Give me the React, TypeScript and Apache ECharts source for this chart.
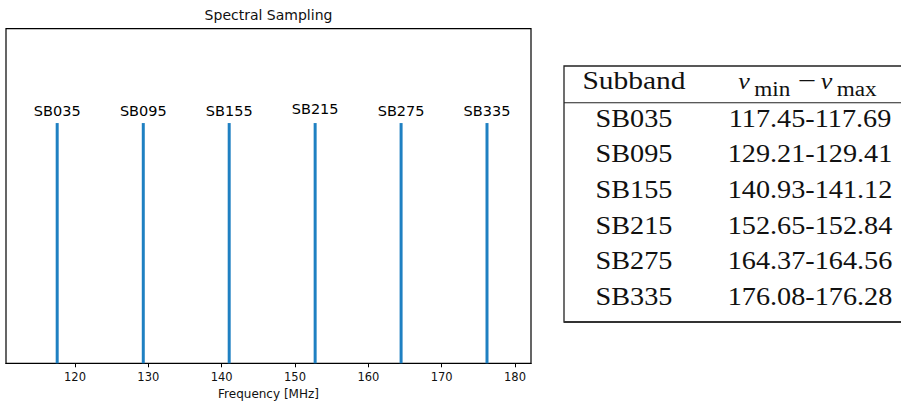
import React, { useEffect, useRef } from "react";
import * as echarts from "echarts";

// ---- data ----
const subbands = ["SB035", "SB095", "SB155", "SB215", "SB275", "SB335"];
const nuMin = [117.45, 129.21, 140.93, 152.65, 164.37, 176.08];
const nuMax = [117.69, 129.41, 141.12, 152.84, 164.56, 176.28];
const lineTop = [0.718, 0.718, 0.718, 0.718, 0.718, 0.718];
const labelLevel = [0.755, 0.755, 0.755, 0.761, 0.755, 0.755];
const xTicks = [120, 130, 140, 150, 160, 170, 180];
const xMin = 110.59;
const xMax = 182.18;
const titleText = "Spectral Sampling";
const xAxisName = "Frequency [MHz]";
const tableHeader = "Subband";

const BLUE = "#1f80c2";
const SANS = "DejaVu Sans";
const SERIF = "Liberation Serif";

export default function App() {
  const ref = useRef<HTMLDivElement>(null);

  useEffect(() => {
    if (!ref.current) return;
    const chart = echarts.init(ref.current, undefined, { renderer: "svg" });

    const data = subbands.map((s, i) => [nuMin[i], nuMax[i], lineTop[i], labelLevel[i], s]);

    // table graphics
    const tLeft = 564;
    const tTop = 66;
    const tBottom = 322;
    const tRight = 912;
    const col1 = 634;
    const col2 = 810;
    const fs = 25;
    const sx = 1.13;
    const rowBase0 = 126.7;
    const rowPitch = 35.7;
    const central = 0.3375 * fs;
    const nuFs = 23;
    const subFs = 20;

    const txt = (
      text: string,
      x: number,
      y: number,
      size: number,
      align: string,
      scaleX: number,
      italic = false
    ) => ({
      type: "text",
      x,
      y,
      scaleX,
      style: {
        text,
        fontFamily: SERIF,
        fontStyle: italic ? "italic" : "normal",
        fontSize: size,
        fill: "#111",
        align,
        verticalAlign: "middle",
        textAlign: align,
        textVerticalAlign: "middle",
      },
    });

    const tableEls: any[] = [
      {
        type: "rect",
        shape: { x: tLeft, y: tTop, width: tRight - tLeft, height: tBottom - tTop },
        style: { fill: "none", stroke: "#222", lineWidth: 1.3 },
      },
      {
        type: "line",
        shape: { x1: tLeft, y1: tBottom, x2: tRight, y2: tBottom },
        style: { stroke: "#333", lineWidth: 2 },
      },
      {
        type: "line",
        shape: { x1: tLeft, y1: 102.7, x2: tRight, y2: 102.7 },
        style: { stroke: "#222", lineWidth: 1.1 },
      },
      txt(tableHeader, col1, 89.3 - central, fs, "center", 1.18),
      // header math: nu_min - nu_max
      txt("ν", 738.3, 88.5 - 0.3375 * nuFs, nuFs, "left", sx, true),
      txt("min", 754.3, 96 - 0.3375 * subFs, subFs, "left", 1.16),
      txt("−", 807, 89 - central, fs, "center", 1.3),
      txt("ν", 820.7, 88.5 - 0.3375 * nuFs, nuFs, "left", sx, true),
      txt("max", 836.7, 96 - 0.3375 * subFs, subFs, "left", 1.16),
    ];

    subbands.forEach((s, i) => {
      const y = rowBase0 + rowPitch * i - central;
      tableEls.push(txt(s, col1, y, fs, "center", sx));
      tableEls.push(txt(`${nuMin[i].toFixed(2)}-${nuMax[i].toFixed(2)}`, col2, y, fs, "center", sx));
    });

    const option: any = {
      animation: false,
      backgroundColor: "#fff",
      grid: {
        left: 6,
        top: 28.7,
        width: 525,
        height: 334.6,
        show: true,
        borderColor: "#000",
        borderWidth: 1.2,
        backgroundColor: "transparent",
        containLabel: false,
        outerBoundsMode: "none",
      },
      xAxis: {
        type: "value",
        min: xMin,
        max: xMax,
        name: xAxisName,
        nameLocation: "middle",
        nameGap: 25,
        nameTextStyle: { fontFamily: SANS, fontSize: 12, color: "#111" },
        axisLine: { show: true, lineStyle: { color: "#000", width: 1.2 } },
        axisTick: {
          show: true,
          length: 4,
          inside: false,
          lineStyle: { color: "#000", width: 1 },
          customValues: xTicks,
        },
        axisLabel: {
          show: true,
          margin: 8,
          fontFamily: SANS,
          fontSize: 11.5,
          color: "#111",
          customValues: xTicks,
        },
        splitLine: { show: false },
      },
      yAxis: {
        type: "value",
        min: 0,
        max: 1,
        show: false,
        splitLine: { show: false },
      },
      series: [
        {
          type: "custom",
          data,
          clip: false,
          renderItem: (params: any, api: any) => {
            const a = api.value(0);
            const b = api.value(1);
            const top = api.value(2);
            const lvl = api.value(3);
            const p0 = api.coord([a, 0]);
            const p1 = api.coord([b, top]);
            const mid = (p0[0] + p1[0]) / 2;
            const w = Math.max(3, p1[0] - p0[0]);
            const ly = api.coord([a, lvl])[1];
            return {
              type: "group",
              children: [
                {
                  type: "rect",
                  shape: { x: mid - w / 2, y: p1[1], width: w, height: p0[1] - p1[1] },
                  style: { fill: BLUE },
                },
                {
                  type: "text",
                  x: mid,
                  y: ly,
                  style: {
                    text: subbands[params.dataIndex],
                    fontFamily: SANS,
                    fontSize: 14.5,
                    fill: "#000",
                    align: "center",
                    verticalAlign: "middle",
                    textAlign: "center",
                    textVerticalAlign: "middle",
                  },
                },
              ],
            };
          },
        },
      ],
      graphic: [
        {
          type: "text",
          x: 268.5,
          y: 15,
          style: {
            text: titleText,
            fontFamily: SANS,
            fontSize: 14,
            fill: "#111",
            align: "center",
            verticalAlign: "middle",
            textAlign: "center",
            textVerticalAlign: "middle",
          },
        },
        ...tableEls,
      ],
    };

    chart.setOption(option);
    return () => chart.dispose();
  }, []);

  return (
    <div
      ref={ref}
      style={{ position: "fixed", left: 0, top: 0, width: 901, height: 401, background: "#fff" }}
    />
  );
}
